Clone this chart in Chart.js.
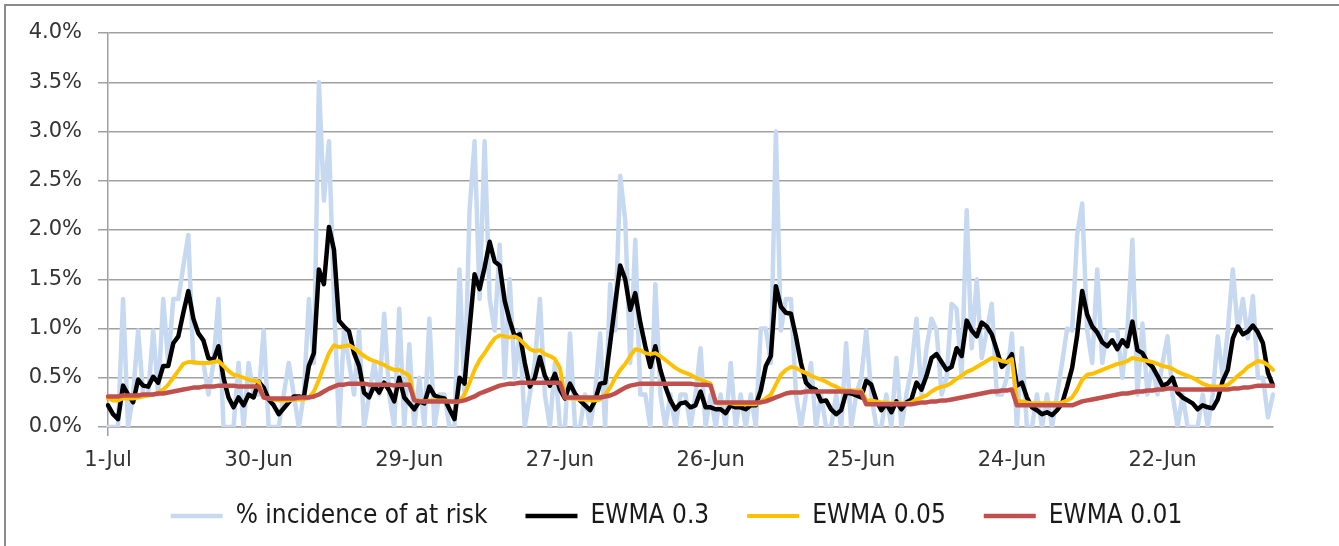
<!DOCTYPE html>
<html>
<head>
<meta charset="utf-8">
<script src="https://cdn.jsdelivr.net/npm/chart.js@4.4.1/dist/chart.umd.min.js"></script>
<style>
  html, body { margin: 0; padding: 0; background: #ffffff; }
  #wrap { position: relative; width: 1339px; height: 546px; overflow: hidden; }
  #frame { position: absolute; left: 4px; top: 4px; width: 1400px; height: 600px; border: 2px solid #8c8c8c; box-sizing: border-box; }
  #c { position: absolute; left: 0; top: 0; }
</style>
</head>
<body>
<div id="wrap">
  <div id="frame"></div>
  <canvas id="c" width="1339" height="546"></canvas>
</div>
<script>
// ---- data (values in %) ----
const TICK_EVERY = 30;
const tickLabels = ['1-Jul', '30-Jun', '29-Jun', '27-Jun', '26-Jun', '25-Jun', '24-Jun', '22-Jun'];

const incidence = [
  0.0, 0.0, 0.0, 1.3, 0.0, 0.33, 0.98, 0.33, 0.33, 0.98, 0.33, 1.3, 0.65, 1.3, 1.3, 1.63, 1.95, 0.65, 0.65, 0.65, 0.33, 0.65, 1.3, 0.0, 0.0, 0.0, 0.65, 0.0, 0.65, 0.33, 0.33,
  0.98, 0.0, 0.0, 0.0, 0.33, 0.65, 0.33, 0.0, 0.33, 1.3, 0.65, 3.5, 2.3, 2.9, 1.3, 0.0, 0.98, 0.65, 0.33, 0.98, 0.0, 0.33, 0.65, 0.33, 1.15, 0.33, 0.0, 1.2, 0.0, 0.84,
  0.0, 0.5, 0.0, 1.1, 0.0, 0.33, 0.33, 0.0, 0.0, 1.6, 0.33, 2.2, 2.9, 1.3, 2.9, 1.3, 0.98, 1.85, 0.5, 1.5, 0.5, 0.98, 0.0, 0.33, 0.65, 1.3, 0.33, 0.0, 0.65, 0.0,
  0.0, 0.95, 0.0, 0.0, 0.33, 0.0, 0.33, 0.95, 0.0, 1.45, 0.98, 2.55, 2.1, 0.65, 1.9, 0.33, 0.33, 0.0, 1.45, 0.33, 0.0, 0.33, 0.0, 0.33, 0.33, 0.0, 0.33, 0.8, 0.0, 0.33,
  0.0, 0.33, 0.0, 0.65, 0.0, 0.33, 0.0, 0.33, 0.0, 1.0, 1.0, 0.65, 3.0, 0.98, 1.3, 1.3, 0.33, 0.0, 0.33, 0.65, 0.0, 0.33, 0.0, 0.0, 0.33, 0.0, 0.85, 0.0, 0.33, 0.5,
  0.98, 0.33, 0.0, 0.0, 0.33, 0.0, 0.7, 0.0, 0.33, 0.6, 1.1, 0.33, 0.8, 1.1, 0.98, 0.33, 0.5, 1.25, 1.2, 0.5, 2.2, 0.8, 1.5, 0.7, 0.98, 1.25, 0.33, 0.33, 0.5, 0.95,
  0.0, 0.8, 0.0, 0.0, 0.33, 0.0, 0.33, 0.0, 0.33, 0.65, 1.0, 0.98, 1.95, 2.27, 0.98, 0.65, 1.6, 0.65, 0.98, 0.98, 0.98, 0.5, 0.98, 1.9, 0.33, 1.05, 0.33, 0.65, 0.33, 0.65,
  0.92, 0.33, 0.0, 0.33, 0.0, 0.0, 0.0, 0.33, 0.0, 0.33, 0.92, 0.5, 0.98, 1.6, 0.98, 1.3, 0.9, 1.33, 0.5, 0.5, 0.1, 0.33
];

const ewma03 = [
  0.22, 0.13, 0.08, 0.42, 0.33, 0.25, 0.48, 0.42, 0.41, 0.51, 0.45, 0.62, 0.62, 0.85, 0.92, 1.16, 1.38, 1.10, 0.95, 0.88, 0.70, 0.68, 0.82, 0.50, 0.30, 0.20, 0.30, 0.22, 0.33, 0.30, 0.46,
  0.40, 0.28, 0.22, 0.13, 0.19, 0.25, 0.31, 0.31, 0.30, 0.62, 0.75, 1.60, 1.45, 2.03, 1.80, 1.08, 1.02, 0.97, 0.75, 0.62, 0.35, 0.30, 0.42, 0.35, 0.45, 0.37, 0.26, 0.50, 0.30, 0.24,
  0.18, 0.26, 0.24, 0.41, 0.32, 0.30, 0.29, 0.18, 0.08, 0.50, 0.44, 1.00, 1.55, 1.40, 1.62, 1.88, 1.68, 1.64, 1.28, 1.08, 0.92, 0.94, 0.65, 0.41, 0.50, 0.71, 0.52, 0.42, 0.54, 0.38,
  0.29, 0.44, 0.34, 0.27, 0.22, 0.17, 0.27, 0.44, 0.45, 0.85, 1.25, 1.64, 1.50, 1.19, 1.36, 1.06, 0.82, 0.61, 0.82, 0.58, 0.41, 0.27, 0.18, 0.24, 0.25, 0.20, 0.22, 0.36, 0.20, 0.20,
  0.18, 0.18, 0.14, 0.22, 0.20, 0.20, 0.18, 0.22, 0.22, 0.37, 0.62, 0.72, 1.43, 1.22, 1.16, 1.15, 0.92, 0.65, 0.45, 0.40, 0.38, 0.26, 0.27, 0.18, 0.13, 0.17, 0.35, 0.34, 0.32, 0.30,
  0.47, 0.43, 0.27, 0.17, 0.24, 0.15, 0.26, 0.18, 0.25, 0.28, 0.45, 0.38, 0.52, 0.70, 0.74, 0.66, 0.58, 0.61, 0.80, 0.72, 1.08, 0.98, 0.92, 1.06, 1.02, 0.94, 0.78, 0.61, 0.66, 0.74,
  0.42, 0.45, 0.30, 0.20, 0.17, 0.13, 0.15, 0.12, 0.17, 0.24, 0.41, 0.60, 0.93, 1.38, 1.14, 1.02, 0.96, 0.86, 0.82, 0.88, 0.79, 0.88, 0.82, 1.07, 0.78, 0.75, 0.66, 0.61, 0.52, 0.42,
  0.44, 0.50, 0.35, 0.30, 0.27, 0.24, 0.18, 0.22, 0.20, 0.19, 0.28, 0.47, 0.58, 0.90, 1.02, 0.94, 0.97, 1.03, 0.96, 0.85, 0.55, 0.42
];

const ewma005 = [
  0.29, 0.27, 0.27, 0.29, 0.29, 0.29, 0.30, 0.31, 0.32, 0.33, 0.35, 0.38, 0.43, 0.50, 0.57, 0.64, 0.66, 0.66, 0.65, 0.65, 0.65, 0.66, 0.67, 0.62, 0.57, 0.53, 0.52, 0.50, 0.48, 0.47, 0.46,
  0.30, 0.29, 0.28, 0.27, 0.27, 0.27, 0.28, 0.28, 0.28, 0.30, 0.36, 0.48, 0.62, 0.75, 0.83, 0.81, 0.82, 0.83, 0.80, 0.76, 0.72, 0.69, 0.67, 0.65, 0.63, 0.60, 0.58, 0.58, 0.55, 0.52,
  0.28, 0.27, 0.26, 0.27, 0.27, 0.27, 0.27, 0.26, 0.25, 0.26, 0.33, 0.45, 0.58, 0.68, 0.75, 0.83, 0.90, 0.93, 0.92, 0.91, 0.92, 0.89, 0.84, 0.79, 0.77, 0.78, 0.74, 0.72, 0.69, 0.60,
  0.30, 0.29, 0.29, 0.28, 0.28, 0.27, 0.27, 0.28, 0.33, 0.40, 0.50, 0.58, 0.64, 0.72, 0.79, 0.78, 0.75, 0.74, 0.75, 0.72, 0.68, 0.64, 0.60, 0.57, 0.55, 0.53, 0.50, 0.48, 0.46, 0.44,
  0.25, 0.24, 0.24, 0.24, 0.23, 0.23, 0.23, 0.23, 0.23, 0.26, 0.29, 0.33, 0.43, 0.53, 0.58, 0.61, 0.60, 0.57, 0.55, 0.52, 0.50, 0.48, 0.46, 0.43, 0.41, 0.38, 0.37, 0.37, 0.37, 0.37,
  0.27, 0.27, 0.26, 0.25, 0.25, 0.24, 0.24, 0.24, 0.24, 0.25, 0.28, 0.30, 0.32, 0.36, 0.39, 0.41, 0.42, 0.45, 0.49, 0.52, 0.56, 0.58, 0.61, 0.64, 0.67, 0.70, 0.69, 0.67, 0.66, 0.69,
  0.27, 0.26, 0.25, 0.24, 0.24, 0.24, 0.24, 0.24, 0.24, 0.25, 0.27, 0.30, 0.38, 0.48, 0.53, 0.54, 0.56, 0.58, 0.60, 0.62, 0.64, 0.65, 0.67, 0.70, 0.69, 0.68, 0.67, 0.66, 0.64, 0.62,
  0.61, 0.59, 0.56, 0.54, 0.52, 0.50, 0.47, 0.44, 0.42, 0.41, 0.41, 0.41, 0.43, 0.47, 0.52, 0.56, 0.61, 0.64, 0.67, 0.66, 0.63, 0.58
];

const ewma001 = [
  0.31, 0.31, 0.31, 0.32, 0.32, 0.32, 0.32, 0.33, 0.33, 0.33, 0.34, 0.34, 0.35, 0.36, 0.37, 0.38, 0.39, 0.40, 0.40, 0.41, 0.41, 0.41, 0.42, 0.42, 0.42, 0.42, 0.41, 0.41, 0.41, 0.41, 0.41,
  0.30, 0.29, 0.29, 0.29, 0.29, 0.29, 0.29, 0.30, 0.30, 0.30, 0.31, 0.33, 0.36, 0.39, 0.41, 0.43, 0.43, 0.44, 0.44, 0.44, 0.44, 0.43, 0.43, 0.43, 0.43, 0.43, 0.42, 0.43, 0.43, 0.43,
  0.27, 0.26, 0.26, 0.26, 0.26, 0.26, 0.26, 0.26, 0.26, 0.26, 0.27, 0.29, 0.31, 0.34, 0.36, 0.38, 0.40, 0.42, 0.43, 0.44, 0.44, 0.45, 0.45, 0.45, 0.45, 0.45, 0.45, 0.45, 0.45, 0.45,
  0.30, 0.30, 0.30, 0.30, 0.30, 0.30, 0.30, 0.30, 0.31, 0.32, 0.34, 0.37, 0.40, 0.42, 0.43, 0.44, 0.44, 0.44, 0.44, 0.44, 0.44, 0.44, 0.44, 0.44, 0.44, 0.44, 0.43, 0.43, 0.43, 0.42,
  0.25, 0.25, 0.25, 0.25, 0.25, 0.25, 0.25, 0.25, 0.25, 0.25, 0.26, 0.28, 0.30, 0.32, 0.34, 0.35, 0.35, 0.35, 0.36, 0.36, 0.36, 0.36, 0.36, 0.36, 0.36, 0.36, 0.36, 0.36, 0.35, 0.35,
  0.23, 0.23, 0.23, 0.23, 0.23, 0.23, 0.23, 0.23, 0.23, 0.23, 0.24, 0.25, 0.25, 0.26, 0.26, 0.27, 0.27, 0.28, 0.29, 0.30, 0.31, 0.32, 0.33, 0.34, 0.35, 0.36, 0.36, 0.37, 0.37, 0.38,
  0.22, 0.22, 0.22, 0.22, 0.22, 0.22, 0.22, 0.22, 0.22, 0.22, 0.22, 0.22, 0.24, 0.26, 0.27, 0.28, 0.29, 0.30, 0.31, 0.32, 0.33, 0.34, 0.34, 0.35, 0.36, 0.36, 0.37, 0.37, 0.38, 0.38,
  0.39, 0.39, 0.38, 0.38, 0.38, 0.38, 0.38, 0.38, 0.38, 0.38, 0.38, 0.38, 0.38, 0.39, 0.39, 0.40, 0.40, 0.41, 0.42, 0.42, 0.42, 0.42
];

// category axis: one category per observation
const categories = incidence.map((_, i) => i);

// ---- styling ----
const GRID = '#a0a0a0';
const AXIS_FONT = { family: 'DejaVu Sans', size: 21 };
const LEGEND_FONT = { family: "'DejaVu Sans Condensed', 'DejaVu Sans', sans-serif", size: 26 };
const LEGEND_DX = 40, LEGEND_DY = -7;

const legendShift = {
  id: 'legendShift',
  afterLayout(chart) {
    const lg = chart.legend;
    if (!lg) return;
    lg.left += LEGEND_DX; lg.right += LEGEND_DX;
    lg.top += LEGEND_DY; lg.bottom += LEGEND_DY;
  }
};

const common = { pointRadius: 0, pointHoverRadius: 0, tension: 0, fill: false, borderJoinStyle: 'round', borderCapStyle: 'round' };

new Chart(document.getElementById('c'), {
  type: 'line',
  data: {
    labels: categories,
    datasets: [
      Object.assign({ label: '% incidence of at risk', data: incidence, borderColor: '#c6d9f1', backgroundColor: '#c6d9f1', borderWidth: 4.5, order: 4 }, common),
      Object.assign({ label: 'EWMA 0.3', data: ewma03, borderColor: '#000000', backgroundColor: '#000000', borderWidth: 4.5, order: 3 }, common),
      Object.assign({ label: 'EWMA 0.05', data: ewma005, borderColor: '#ffc000', backgroundColor: '#ffc000', borderWidth: 4, order: 2 }, common),
      Object.assign({ label: 'EWMA 0.01', data: ewma001, borderColor: '#c0504d', backgroundColor: '#c0504d', borderWidth: 4.5, order: 1 }, common)
    ]
  },
  options: {
    responsive: false,
    animation: false,
    devicePixelRatio: 1,
    layout: { padding: { top: 33, right: 66, left: 0, bottom: 0 } },
    plugins: {
      tooltip: { enabled: false },
      legend: {
        position: 'bottom',
        maxHeight: 78,
        labels: {
          usePointStyle: true,
          pointStyle: 'line',
          pointStyleWidth: 52,
          padding: 38,
          font: LEGEND_FONT,
          color: '#1a1a1a',
          sort: (a, b) => a.datasetIndex - b.datasetIndex
        }
      }
    },
    scales: {
      x: {
        type: 'category',
        offset: false,
        grid: {
          display: true,
          drawOnChartArea: false,
          drawTicks: true,
          tickLength: 9,
          lineWidth: 1.5,
          color: (ctx) => (ctx.index % TICK_EVERY === 0 ? GRID : 'rgba(0,0,0,0)')
        },
        border: { display: true, color: GRID, width: 1.5 },
        ticks: {
          autoSkip: false,
          maxRotation: 0,
          minRotation: 0,
          padding: 12,
          font: AXIS_FONT,
          color: '#333333',
          callback: (v, i) => (i % TICK_EVERY === 0 ? tickLabels[i / TICK_EVERY] : null)
        },
        afterFit: (s) => { s.height = 45; }
      },
      y: {
        min: 0,
        max: 4,
        grid: { color: GRID, lineWidth: 1.5, tickLength: 10 },
        border: { display: true, color: GRID, width: 1.5 },
        ticks: {
          stepSize: 0.5,
          padding: 16,
          font: AXIS_FONT,
          color: '#333333',
          callback: (v) => v.toFixed(1) + '%'
        },
        afterFit: (s) => { s.width = 108; }
      }
    }
  },
  plugins: [legendShift]
});
</script>
</body>
</html>
